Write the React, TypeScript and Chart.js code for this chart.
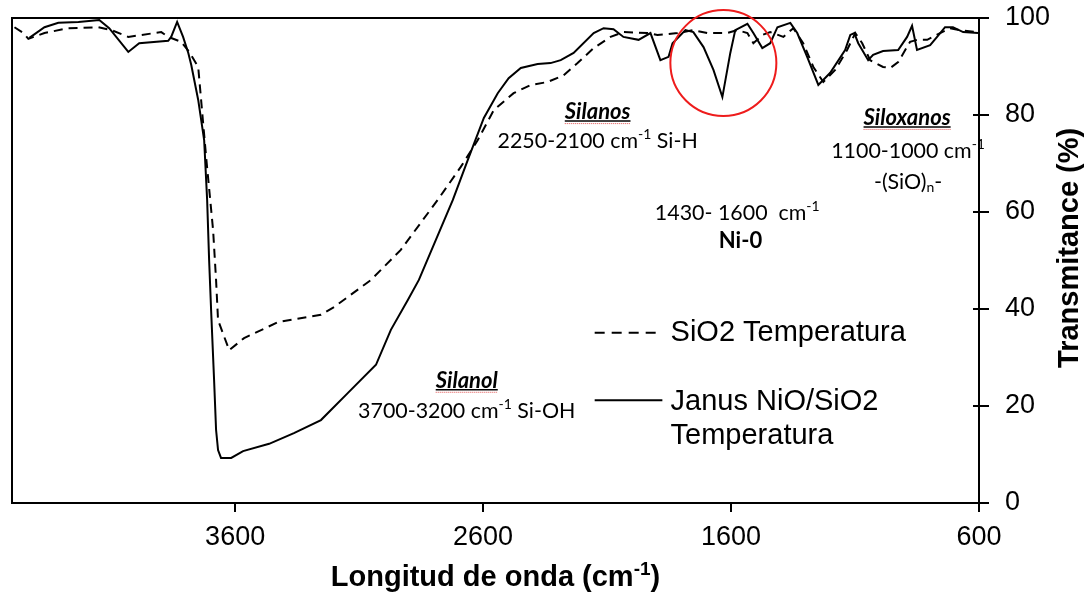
import React, { useEffect, useRef } from "react";
import { Chart, registerables } from "chart.js";
Chart.register(...registerables);

// ---------- data ----------
const X_TICKS = [3600, 2600, 1600, 600];
const Y_TICKS = [0, 20, 40, 60, 80, 100];
const X_MIN = 600;
const X_MAX = 4500;

const SIO2_LABEL = "SiO2 Temperatura";
const SIO2_X = [4490, 4454, 4434, 4369, 4273, 4152, 4099, 4031, 3898, 3870, 3818, 3785, 3749, 3717, 3689, 3677, 3669, 3624, 3564, 3427, 3254, 3201, 3052, 2932, 2783, 2690, 2622, 2557, 2477, 2408, 2340, 2275, 2219, 2154, 2086, 2034, 1937, 1897, 1816, 1752, 1695, 1615, 1575, 1534, 1510, 1474, 1442, 1389, 1349, 1309, 1268, 1228, 1180, 1132, 1099, 1071, 1039, 987, 958, 926, 878, 850, 809, 757, 717, 677, 608];
const SIO2_Y = [98.1, 96.9, 95.7, 96.9, 97.9, 98.1, 97.5, 96.1, 97.1, 96.1, 95.1, 93.0, 89.9, 71.3, 56.3, 46.0, 37.7, 31.5, 34.0, 37.3, 38.8, 40.4, 46.0, 52.2, 62.5, 69.3, 74.8, 81.0, 84.5, 86.2, 86.8, 88.2, 90.7, 93.8, 96.1, 97.1, 96.9, 96.5, 96.9, 97.5, 96.9, 96.9, 97.5, 96.9, 94.8, 96.5, 97.1, 96.1, 97.9, 94.8, 89.9, 86.8, 89.3, 93.4, 96.9, 94.8, 91.3, 89.9, 89.7, 90.9, 95.1, 95.5, 95.5, 96.9, 97.9, 97.5, 97.1];

const JANUS_LABEL_1 = "Janus NiO/SiO2";
const JANUS_LABEL_2 = "Temperatura";
const JANUS_X = [4430, 4369, 4313, 4232, 4148, 4108, 4031, 3987, 3870, 3858, 3834, 3810, 3789, 3777, 3749, 3725, 3713, 3705, 3697, 3685, 3677, 3669, 3657, 3616, 3568, 3463, 3363, 3254, 3145, 3032, 2972, 2903, 2859, 2722, 2662, 2597, 2541, 2497, 2448, 2380, 2328, 2287, 2235, 2154, 2114, 2074, 2034, 1973, 1925, 1885, 1852, 1836, 1784, 1752, 1711, 1671, 1635, 1603, 1583, 1534, 1510, 1474, 1442, 1413, 1361, 1333, 1293, 1248, 1200, 1140, 1119, 1103, 1087, 1047, 1027, 987, 926, 890, 870, 850, 797, 769, 737, 705, 664, 604];
const JANUS_Y = [95.9, 98.1, 99.0, 99.2, 99.6, 97.9, 93.0, 94.8, 95.3, 96.1, 99.2, 96.1, 92.8, 90.3, 83.1, 74.8, 62.5, 50.1, 39.8, 25.4, 15.1, 10.9, 9.3, 9.3, 10.7, 12.2, 14.4, 17.1, 22.7, 28.5, 35.7, 41.9, 46.0, 62.5, 70.7, 79.4, 84.5, 87.6, 89.7, 90.5, 90.7, 91.3, 92.8, 96.9, 97.9, 97.7, 96.1, 95.5, 96.9, 91.3, 92.0, 94.8, 97.5, 97.1, 94.0, 89.3, 83.7, 92.8, 97.5, 98.8, 96.9, 93.8, 94.8, 98.1, 99.0, 96.9, 92.0, 86.2, 88.7, 93.4, 96.5, 96.9, 94.8, 91.3, 92.4, 93.2, 93.4, 96.1, 98.4, 93.4, 94.4, 96.1, 98.1, 98.1, 97.1, 96.9];

const X_TITLE = ["Longitud de onda (cm", "-1", ")"];
const Y_TITLE = "Transmitance (%)";

type Seg = { t: string; s?: "sup" | "sub" };
type Note = { x: number; y: number; segs: Seg[]; bold?: boolean; italic?: boolean; underline?: boolean };

// annotation anchors in data units (wavenumber, %)
const NOTES: Note[] = [
  { x: 2666, y: 25.2, segs: [{ t: "Silanol" }], bold: true, italic: true, underline: true },
  { x: 2666, y: 19.0, segs: [{ t: "3700-3200 cm" }, { t: "-1", s: "sup" }, { t: " Si-OH" }] },
  { x: 2138, y: 80.6, segs: [{ t: "Silanos" }], bold: true, italic: true, underline: true },
  { x: 2138, y: 74.6, segs: [{ t: "2250-2100 cm" }, { t: "-1", s: "sup" }, { t: " Si-H" }] },
  { x: 1575, y: 59.8, segs: [{ t: "1430- 1600  cm" }, { t: "-1", s: "sup" }] },
  { x: 1562, y: 54.0, segs: [{ t: "Ni-0" }], bold: true },
  { x: 890, y: 79.4, segs: [{ t: "Siloxanos" }], bold: true, italic: true, underline: true },
  { x: 886, y: 72.6, segs: [{ t: "1100-1000 cm" }, { t: "-1", s: "sup" }] },
  { x: 886, y: 66.2, segs: [{ t: "-(SiO)" }, { t: "n", s: "sub" }, { t: "-" }] },
];
const CIRCLE = { x: 1631, y: 90.7 };
const LEGEND_POS = { x0: 2150, x1: 1877, xText: 1844, yDash: 35.1, ySolid: 21.2, yText1: 35.1, yText2a: 20.8, yText2b: 13.8 };

const ARIAL = "'Liberation Sans', Arial, sans-serif";
const CAL = "Lato, 'Open Sans', sans-serif";

function drawRich(ctx: CanvasRenderingContext2D, segs: Seg[], x: number, y: number, size: number, weight: string, style: string, family: string, align: "center" | "left") {
  const base = `${style} ${weight} ${size}px ${family}`;
  const small = `${style} ${weight} ${Math.round(size * 0.64)}px ${family}`;
  let w = 0;
  for (const s of segs) {
    ctx.font = s.s ? small : base;
    w += ctx.measureText(s.t).width;
  }
  const left = align === "center" ? x - w / 2 : x;
  let cx = left;
  ctx.textAlign = "left";
  ctx.textBaseline = "middle";
  for (const s of segs) {
    ctx.font = s.s ? small : base;
    const dy = s.s === "sup" ? -size * 0.3 : s.s === "sub" ? size * 0.28 : 0;
    ctx.fillText(s.t, cx, y + dy);
    cx += ctx.measureText(s.t).width;
  }
  return { left, width: w };
}

const overlay = {
  id: "overlay",
  afterDraw(chart: any) {
    const { ctx, chartArea: a, scales } = chart;
    const xs = scales.x;
    const ys = scales.y;
    ctx.save();
    ctx.strokeStyle = "#000";
    ctx.fillStyle = "#000";
    ctx.lineWidth = 2;
    // top and left frame
    ctx.beginPath();
    ctx.moveTo(a.left, a.bottom);
    ctx.lineTo(a.left, a.top);
    ctx.lineTo(a.right, a.top);
    ctx.stroke();
    // inner half of y ticks
    for (const v of Y_TICKS) {
      const py = ys.getPixelForValue(v);
      ctx.beginPath();
      ctx.moveTo(a.right - 6, py);
      ctx.lineTo(a.right, py);
      ctx.stroke();
    }
    // annotations
    for (const n of NOTES) {
      const px = xs.getPixelForValue(n.x);
      const py = ys.getPixelForValue(n.y);
      const size = n.bold ? 22 : 21.4;
      const r = drawRich(ctx, n.segs, px, py, size, n.bold ? "bold" : "normal", n.italic ? "italic" : "normal", CAL, "center");
      if (n.underline) {
        ctx.lineWidth = 1.5;
        ctx.strokeStyle = "#000";
        ctx.beginPath();
        ctx.moveTo(r.left, py + 9);
        ctx.lineTo(r.left + r.width, py + 9);
        ctx.stroke();
        ctx.lineWidth = 1;
        ctx.strokeStyle = "#e05050";
        ctx.setLineDash([1, 1]);
        ctx.beginPath();
        ctx.moveTo(r.left, py + 11.5);
        ctx.lineTo(r.left + r.width, py + 11.5);
        ctx.stroke();
        ctx.setLineDash([]);
        ctx.strokeStyle = "#000";
      }
    }
    // red circle
    ctx.strokeStyle = "#ee1c1c";
    ctx.lineWidth = 2;
    ctx.beginPath();
    ctx.arc(xs.getPixelForValue(CIRCLE.x), ys.getPixelForValue(CIRCLE.y), 53, 0, Math.PI * 2);
    ctx.stroke();
    // legend
    ctx.strokeStyle = "#000";
    ctx.lineWidth = 2;
    const lx0 = xs.getPixelForValue(LEGEND_POS.x0);
    const lx1 = xs.getPixelForValue(LEGEND_POS.x1);
    ctx.setLineDash([10, 7]);
    ctx.beginPath();
    ctx.moveTo(lx0, ys.getPixelForValue(LEGEND_POS.yDash));
    ctx.lineTo(lx1, ys.getPixelForValue(LEGEND_POS.yDash));
    ctx.stroke();
    ctx.setLineDash([]);
    ctx.beginPath();
    ctx.moveTo(lx0, ys.getPixelForValue(LEGEND_POS.ySolid));
    ctx.lineTo(lx1, ys.getPixelForValue(LEGEND_POS.ySolid));
    ctx.stroke();
    const tx = xs.getPixelForValue(LEGEND_POS.xText);
    ctx.font = `29px ${ARIAL}`;
    ctx.textAlign = "left";
    ctx.textBaseline = "middle";
    ctx.fillText(SIO2_LABEL, tx, ys.getPixelForValue(LEGEND_POS.yText1));
    ctx.fillText(JANUS_LABEL_1, tx, ys.getPixelForValue(LEGEND_POS.yText2a));
    ctx.fillText(JANUS_LABEL_2, tx, ys.getPixelForValue(LEGEND_POS.yText2b));
    // x title
    const segs: Seg[] = [{ t: X_TITLE[0] }, { t: X_TITLE[1], s: "sup" }, { t: X_TITLE[2] }];
    drawRich(ctx, segs, (a.left + a.right) / 2, a.bottom + 75, 29, "bold", "normal", ARIAL, "center");
    // y title (reads bottom to top)
    ctx.translate(a.right + 91, a.top + (a.bottom - a.top) * 0.474);
    ctx.rotate(-Math.PI / 2);
    ctx.font = `bold 29px ${ARIAL}`;
    ctx.textAlign = "center";
    ctx.textBaseline = "middle";
    ctx.fillText(Y_TITLE, 0, 0);
    ctx.restore();
  },
};

export default function App() {
  const ref = useRef<HTMLCanvasElement>(null);
  useEffect(() => {
    document.body.style.margin = "0";
    const canvas = ref.current!;
    const chart = new Chart(canvas, {
      type: "line",
      data: {
        datasets: [
          {
            label: SIO2_LABEL,
            data: SIO2_X.map((x, i) => ({ x, y: SIO2_Y[i] })),
            borderColor: "#000",
            borderWidth: 2,
            borderDash: [9, 6],
            pointRadius: 0,
            tension: 0,
            fill: false,
          },
          {
            label: JANUS_LABEL_1 + " " + JANUS_LABEL_2,
            data: JANUS_X.map((x, i) => ({ x, y: JANUS_Y[i] })),
            borderColor: "#000",
            borderWidth: 2,
            pointRadius: 0,
            tension: 0,
            fill: false,
          },
        ],
      },
      options: {
        animation: false,
        responsive: false,
        maintainAspectRatio: false,
        layout: { padding: { left: 12, top: 18, right: 0, bottom: 0 } },
        plugins: { legend: { display: false }, tooltip: { enabled: false }, title: { display: false } },
        scales: {
          x: {
            type: "linear",
            reverse: true,
            min: X_MIN,
            max: X_MAX,
            afterBuildTicks: (s: any) => {
              s.ticks = X_TICKS.map((v) => ({ value: v }));
            },
            afterFit: (s: any) => {
              s.height = 93;
              s.paddingLeft = 0;
              s.paddingRight = 0;
            },
            grid: { display: true, drawOnChartArea: false, drawTicks: true, tickLength: 9, color: "#000", lineWidth: 2 },
            border: { display: true, color: "#000", width: 2 },
            ticks: {
              color: "#000",
              font: { family: ARIAL, size: 27 },
              padding: 9,
              maxRotation: 0,
              autoSkip: false,
              callback: (v: any) => String(v),
            },
          },
          y: {
            type: "linear",
            position: "right",
            min: 0,
            max: 100,
            afterBuildTicks: (s: any) => {
              s.ticks = Y_TICKS.map((v) => ({ value: v }));
            },
            afterFit: (s: any) => {
              s.width = 109;
              s.paddingTop = 0;
              s.paddingBottom = 0;
            },
            grid: { display: true, drawOnChartArea: false, drawTicks: true, tickLength: 10, color: "#000", lineWidth: 2 },
            border: { display: true, color: "#000", width: 2 },
            ticks: { color: "#000", font: { family: ARIAL, size: 27 }, padding: 16, callback: (v: any) => String(v) },
          },
        },
      } as any,
      plugins: [overlay],
    });
    return () => chart.destroy();
  }, []);
  return (
    <div style={{ width: 1088, height: 596, background: "#fff" }}>
      <canvas ref={ref} width={1088} height={596} style={{ display: "block" }} />
    </div>
  );
}
